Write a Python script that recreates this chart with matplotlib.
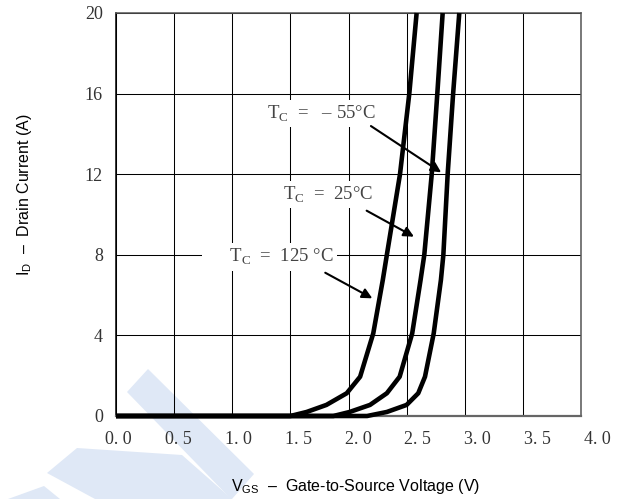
import matplotlib
matplotlib.use("Agg")
import matplotlib.pyplot as plt
from matplotlib.patches import Polygon
from matplotlib.transforms import ScaledTranslation

# ---- data ----
vgs_125 = [0.0, 1.50, 1.64, 1.81, 1.985, 2.10, 2.213, 2.295, 2.33, 2.443, 2.523, 2.586]
id_125 = [0.0, 0.0, 0.2, 0.55, 1.13, 1.95, 4.1, 6.75, 8.0, 12.0, 16.0, 20.0]

vgs_25 = [0.0, 1.87, 2.01, 2.185, 2.33, 2.44, 2.548, 2.62, 2.652, 2.716, 2.764, 2.81]
id_25 = [0.0, 0.0, 0.2, 0.55, 1.13, 1.95, 4.1, 6.75, 8.0, 12.0, 16.0, 20.0]

vgs_m55 = [0.0, 2.16, 2.33, 2.50, 2.60, 2.658, 2.733, 2.795, 2.816, 2.853, 2.90, 2.953]
id_m55 = [0.0, 0.0, 0.2, 0.55, 1.13, 1.95, 4.1, 6.75, 8.0, 12.0, 16.0, 20.0]

x_ticks = [0.0, 0.5, 1.0, 1.5, 2.0, 2.5, 3.0, 3.5, 4.0]
x_ticklabels = ["0. 0", "0. 5", "1. 0", "1. 5", "2. 0", "2. 5", "3. 0", "3. 5", "4. 0"]
y_ticks = [0, 4, 8, 12, 16, 20]
y_ticklabels = ["0", "4", "8", "12", "16", "20"]

labels = [r"T$_\mathrm{C}$  =   – 55°C", r"T$_\mathrm{C}$  =  25°C", r"     T$_\mathrm{C}$  =  125 °C"]

plt.rcParams["mathtext.fontset"] = "custom"
plt.rcParams["mathtext.rm"] = "Liberation Serif"
plt.rcParams["mathtext.sf"] = "Liberation Sans"

W, H = 626, 499
fig = plt.figure(figsize=(W / 100, H / 100), dpi=100)
ax = fig.add_axes([116 / W, 1 - 416 / H, 465 / W, 403 / H])
ax.set_facecolor("none")

# watermark (decoration) in pixel coordinates
wm = "#dfe8f6"
for pts in [
    [(127, 392), (148, 369), (254, 474), (232, 499), (231, 499)],
    [(47, 473), (77, 448), (182, 455), (232, 499), (95, 499)],
    [(8, 499), (44, 486), (60, 499)],
]:
    poly = Polygon([(x / W, 1 - y / H) for x, y in pts], closed=True,
                   transform=fig.transFigure, fc=wm, ec="none", zorder=-5)
    fig.add_artist(poly)

for xs, ys in [(vgs_125, id_125), (vgs_25, id_25), (vgs_m55, id_m55)]:
    ax.plot(xs, ys, color="black", lw=3.3, solid_joinstyle="round",
            solid_capstyle="butt", zorder=4, clip_on=False)

ax.set_xlim(0, 4)
ax.set_ylim(0, 20)
ax.set_xticks(x_ticks)
ax.set_xticklabels(x_ticklabels, family="Liberation Serif", fontsize=13, color="#333333")
ax.set_yticks(y_ticks)
ax.set_yticklabels(y_ticklabels, family="Liberation Serif", fontsize=13, color="#333333")
ax.tick_params(length=0)
ax.tick_params(axis="x", pad=11)
ax.tick_params(axis="y", pad=9.5)
ax.grid(True, color="black", lw=0.75)
ax.set_axisbelow(True)

for i, lab in enumerate(ax.get_xticklabels()):
    off = ScaledTranslation((2.5 + 1.75 * i) / 100, 0, fig.dpi_scale_trans)
    lab.set_transform(lab.get_transform() + off)

ax.spines["left"].set_color("black")
ax.spines["left"].set_linewidth(1.1)
for s in ["top", "right"]:
    ax.spines[s].set_color("#555555")
    ax.spines[s].set_linewidth(1.1)
ax.spines["bottom"].set_color("#666666")
ax.spines["bottom"].set_linewidth(1.6)

ax.set_xlabel(r"V$_{\mathsf{GS}}$  –  Gate-to-Source Voltage (V)", family="Liberation Sans",
              fontsize=11.5, va="center")
ax.xaxis.set_label_coords((356 - 116) / 465, (416 - 487) / 403)
ax.set_ylabel(r"I$_{\mathsf{D}}$  –  Drain Current (A)", family="Liberation Sans",
              fontsize=11.5, va="center")
ax.yaxis.set_label_coords((25 - 116) / 465, (416 - 195) / 403)

# temperature labels
bb = dict(fc="white", ec="none", pad=2.5)
tkw = dict(family="Liberation Serif", fontsize=13.5, color="#444444",
           ha="left", va="baseline", bbox=bb, zorder=3)
ax.text(1.30, 14.77, labels[0], **tkw)
ax.text(1.434, 10.75, labels[1], **tkw)
ax.text(0.77, 7.66, labels[2], **tkw)

ap = dict(arrowstyle="-|>", color="black", lw=1.5, mutation_scale=15, shrinkA=0, shrinkB=0)
ax.annotate("", xy=(2.797, 12.09), xytext=(2.193, 14.39), arrowprops=ap, zorder=5)
ax.annotate("", xy=(2.563, 8.90), xytext=(2.156, 10.19), arrowprops=ap, zorder=5)
ax.annotate("", xy=(2.205, 5.84), xytext=(1.80, 7.11), arrowprops=ap, zorder=5)

fig.savefig("out.png", dpi=100)
